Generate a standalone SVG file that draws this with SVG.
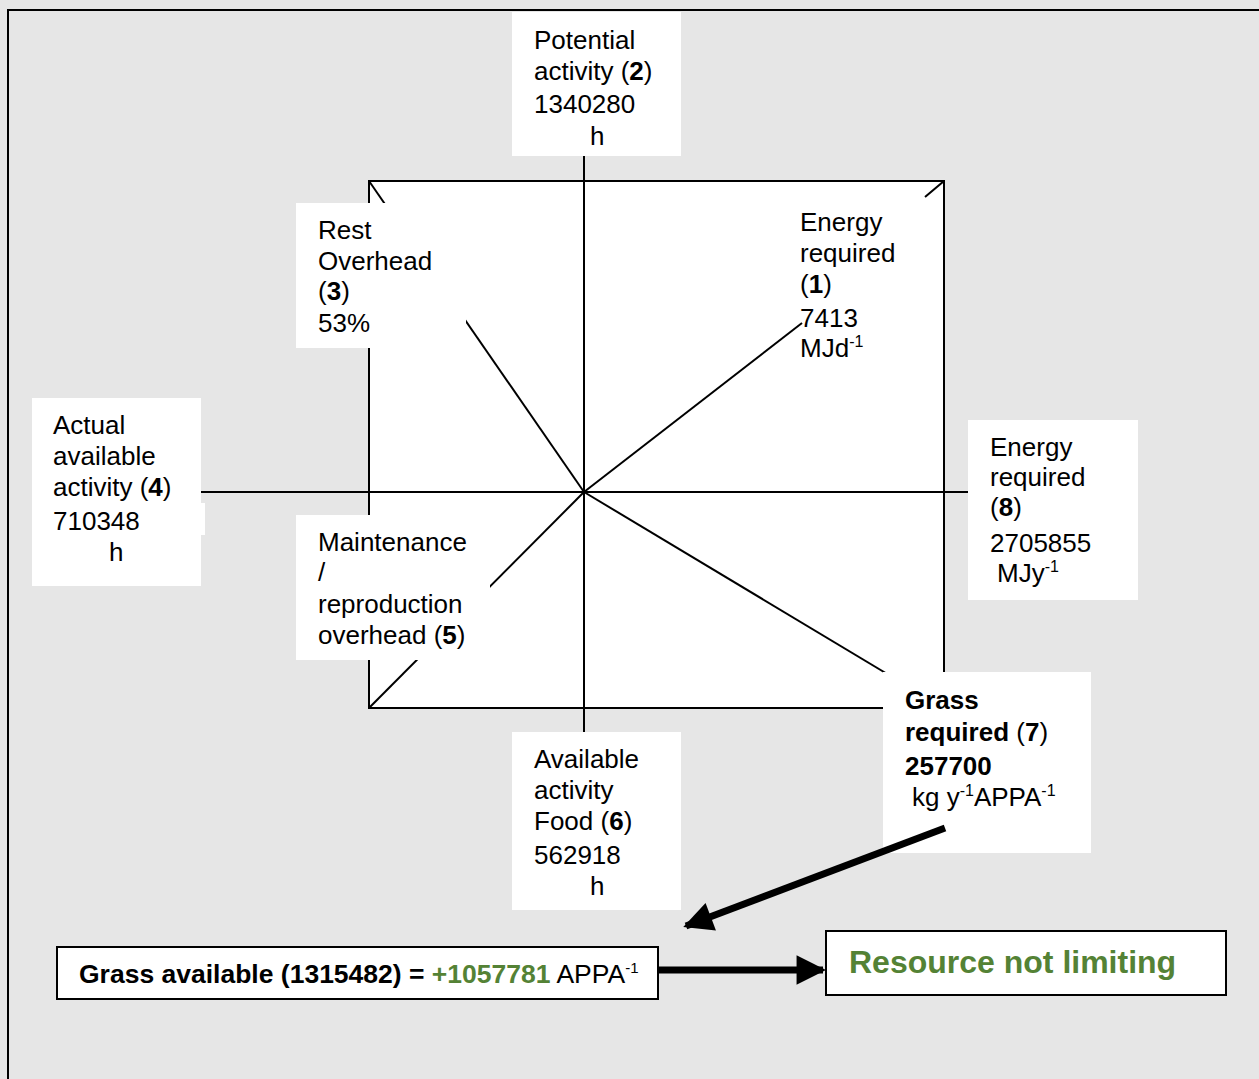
<svg xmlns="http://www.w3.org/2000/svg" width="1259" height="1079" viewBox="0 0 1259 1079">
<style>
text{font-family:"Liberation Sans",Arial,sans-serif;font-size:26px;fill:#000}
.b{font-weight:bold}
.g{fill:#548235}
.sup{font-size:16px}
.box{fill:#fff;stroke:none}
.frame{fill:#fff;stroke:#000;stroke-width:2}
.ln{stroke:#000;stroke-width:2;fill:none}
.thick{stroke:#000;stroke-width:7;fill:none}
</style>
<defs>
<marker id="ah" viewBox="0 0 10 10" refX="9" refY="5" markerWidth="5" markerHeight="4.2" orient="auto" markerUnits="strokeWidth">
<path d="M0,0 L10,5 L0,10 z" fill="#000"/>
</marker>
</defs>
<rect x="0" y="0" width="1259" height="1079" fill="#e6e6e6"/>
<path d="M8,1079 V10 H1259" class="ln"/>
<g id="square">
<rect x="369" y="181" width="575" height="527" class="frame"/>
</g>
<g id="connectors">
<line x1="584" y1="150" x2="584" y2="740" class="ln" stroke-width="1.5"/>
<line x1="195" y1="492" x2="975" y2="492" class="ln" stroke-width="1.5"/>
<line x1="369" y1="181" x2="584" y2="492" class="ln" stroke-width="1.5"/>
<line x1="584" y1="492" x2="802" y2="323" class="ln" stroke-width="1.5"/>
<line x1="944" y1="181" x2="925" y2="197" class="ln" stroke-width="1.5"/>
<line x1="369" y1="708" x2="584" y2="492" class="ln" stroke-width="1.5"/>
<line x1="584" y1="492" x2="944" y2="708" class="ln" stroke-width="1.5"/>
</g>
<g id="n2">
<rect x="512" y="12" width="169" height="144" class="box"/>
<text x="534" y="49">Potential</text>
<text x="534" y="80">activity (<tspan class="b">2</tspan>)</text>
<text x="534" y="113">1340280</text>
<text x="590" y="145">h</text>
</g>
<g id="n3">
<rect x="296" y="203" width="170" height="145" class="box"/>
<text x="318" y="239">Rest</text>
<text x="318" y="270">Overhead</text>
<text x="318" y="300">(<tspan class="b">3</tspan>)</text>
<text x="318" y="332">53%</text>
</g>
<g id="n1">
<text x="800" y="231">Energy</text>
<text x="800" y="262">required</text>
<text x="800" y="293">(<tspan class="b">1</tspan>)</text>
<text x="800" y="327">7413</text>
<text x="800" y="357">MJd<tspan class="sup" dy="-10">-1</tspan></text>
</g>
<g id="n4">
<rect x="32" y="398" width="169" height="188" class="box"/>
<rect x="199" y="503" width="6" height="32" class="box"/>
<text x="53" y="434">Actual</text>
<text x="53" y="465">available</text>
<text x="53" y="496">activity (<tspan class="b">4</tspan>)</text>
<text x="53" y="530">710348</text>
<text x="109" y="561">h</text>
</g>
<g id="n5">
<rect x="296" y="515" width="194" height="145" class="box"/>
<text x="318" y="551">Maintenance</text>
<text x="318" y="581">/</text>
<text x="318" y="613">reproduction</text>
<text x="318" y="644">overhead (<tspan class="b">5</tspan>)</text>
</g>
<g id="n8">
<rect x="968" y="420" width="170" height="180" class="box"/>
<text x="990" y="456">Energy</text>
<text x="990" y="486">required</text>
<text x="990" y="516">(<tspan class="b">8</tspan>)</text>
<text x="990" y="552">2705855</text>
<text x="997" y="582">MJy<tspan class="sup" dy="-10">-1</tspan></text>
</g>
<g id="n6">
<rect x="512" y="732" width="169" height="178" class="box"/>
<text x="534" y="768">Available</text>
<text x="534" y="799">activity</text>
<text x="534" y="830">Food (<tspan class="b">6</tspan>)</text>
<text x="534" y="864">562918</text>
<text x="590" y="895">h</text>
</g>
<g id="n7">
<rect x="883" y="672" width="208" height="181" class="box"/>
<text x="905" y="709" class="b">Grass</text>
<text x="905" y="741"><tspan class="b">required</tspan> (<tspan class="b">7</tspan>)</text>
<text x="905" y="775" class="b">257700</text>
<text x="912" y="806">kg y<tspan class="sup" dy="-10">-1</tspan><tspan dy="10">APPA</tspan><tspan class="sup" dy="-10">-1</tspan></text>
</g>
<g id="grass-available">
<rect x="57" y="947" width="601" height="52" class="frame" stroke-width="1.5"/>
<text x="79" y="983" style="font-size:26.5px"><tspan class="b">Grass available (1315482) = </tspan><tspan class="b g">+1057781</tspan> APPA<tspan class="sup" dy="-10" style="font-size:15px">-1</tspan></text>
</g>
<g id="resource">
<rect x="826" y="931" width="400" height="64" class="frame" stroke-width="1.5"/>
<text x="849" y="973" class="b g" style="font-size:32px">Resource not limiting</text>
</g>
<g id="arrows">
<line x1="945" y1="828" x2="686" y2="926" class="thick" stroke-width="6" marker-end="url(#ah)"/>
<line x1="658" y1="970" x2="823" y2="970" class="thick" marker-end="url(#ah)"/>
</g>
</svg>
